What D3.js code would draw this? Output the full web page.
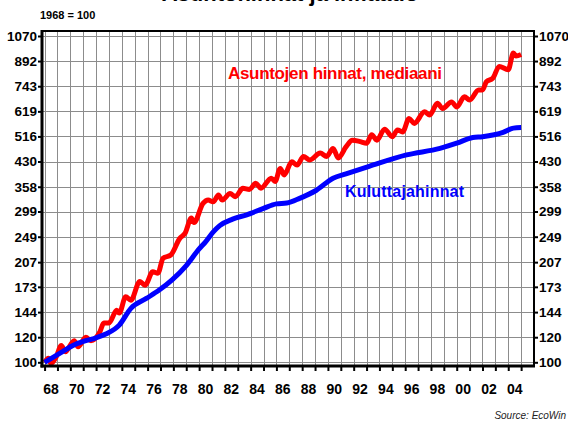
<!DOCTYPE html>
<html>
<head>
<meta charset="utf-8">
<script src="https://cdn.jsdelivr.net/npm/d3@7"></script>
<style>
    body { margin: 0; background: #fff; }
    svg { display: block; font-family: Arial, "Liberation Sans", sans-serif; }
</style>
</head>
<body>
<svg id="chart" width="568" height="426"></svg>
<script>
(function() {
    'use strict';

    // asuntojen hinnat, mediaani (1968 = 100)
    var houseYears = [1968.0, 1968.3, 1968.5, 1968.9, 1969.3, 1969.6, 1970.3, 1970.6, 1971.2, 1971.6,
        1972.3, 1972.6, 1973.0, 1973.6, 1973.8, 1974.3, 1974.7, 1975.4, 1975.8, 1976.4,
        1976.8, 1977.2, 1977.8, 1978.5, 1978.9, 1979.4, 1979.6, 1980.3, 1980.7, 1981.1,
        1981.5, 1981.8, 1982.4, 1982.8, 1983.4, 1983.9, 1984.4, 1984.8, 1985.6, 1985.9,
        1986.3, 1986.6, 1987.2, 1987.6, 1988.1, 1988.6, 1989.4, 1989.9, 1990.4, 1990.8,
        1991.4, 1991.9, 1992.5, 1993.0, 1993.4, 1993.8, 1994.4, 1995.0, 1995.4, 1995.8,
        1996.3, 1996.7, 1997.5, 1997.9, 1998.5, 1998.9, 1999.6, 2000.0, 2000.6, 2001.0,
        2001.7, 2002.0, 2002.3, 2002.8, 2003.3, 2004.0, 2004.4, 2004.6, 2005.0];
    var houseIndex = [100, 103, 99, 104, 113, 108, 117, 112, 120, 117,
        125, 133, 133, 146, 143, 161, 157, 180, 175, 193,
        191, 213, 218, 246, 255, 285, 276, 317, 325, 321,
        337, 325, 341, 333, 354, 351, 367, 354, 381, 372,
        409, 390, 429, 419, 446, 435, 457, 446, 473, 441,
        478, 502, 497, 491, 522, 502, 544, 515, 541, 533,
        588, 567, 617, 603, 656, 632, 663, 639, 688, 672,
        723, 723, 768, 787, 858, 838, 946, 925, 935];

    // kuluttajahinnat (1968 = 100)
    var cpiYears = [1968.0, 1969.4, 1970.2, 1971.2, 1972.0, 1972.8, 1973.8, 1974.7, 1975.9, 1976.9,
        1977.9, 1979.0, 1980.0, 1980.5, 1981.1, 1981.6, 1982.6, 1983.7, 1985.0, 1986.0,
        1986.8, 1987.8, 1989.1, 1990.4, 1991.4, 1993.2, 1996.1, 1998.7, 2000.0, 2001.25,
        2002.0, 2003.6, 2004.4, 2005.0];
    var cpiIndex = [100, 108, 113, 117, 119.5, 123, 131, 148, 159, 169,
        182, 202, 228, 240, 258, 270, 283, 292, 306, 316,
        318, 329, 349, 381, 393, 415, 451, 473, 491, 512,
        515, 531, 548, 550];

    var yTickValues = [100, 120, 144, 173, 207, 249, 299, 358, 430, 516, 619, 743, 892, 1070];
    var gridYears = d3.range(1968, 2006);
    var labelYears = d3.range(1968, 2005, 2);

    var left = 42, right = 534, top = 31, bottom = 366;

    var svg = d3.select('#chart');

    var x = d3.scaleLinear().domain([1967.8, 2006.0]).range([left, right]);
    var y = d3.scaleLog().domain([97.35, 1109.6]).range([bottom, top]);

    // title, cut by the top edge as in the original
    svg.append('text')
        .attr('x', 290)
        .attr('y', 1)
        .attr('text-anchor', 'middle')
        .style('font-size', '22px')
        .style('font-weight', 'bold')
        .text('Asuntohinnat ja inflaatio');

    svg.append('text')
        .attr('x', 40)
        .attr('y', 19)
        .style('font-size', '11px')
        .style('font-weight', 'bold')
        .text('1968 = 100');

    // grid
    var grid = svg.append('g').style('shape-rendering', 'crispEdges');
    grid.selectAll('line.h')
        .data(yTickValues)
        .enter()
        .append('line')
        .attr('class', 'h')
        .attr('x1', left).attr('x2', right)
        .attr('y1', function(d) { return Math.round(y(d)) + 0.5; })
        .attr('y2', function(d) { return Math.round(y(d)) + 0.5; })
        .style('stroke', '#8c8c8c');
    grid.selectAll('line.v')
        .data(gridYears)
        .enter()
        .append('line')
        .attr('class', 'v')
        .attr('y1', top).attr('y2', bottom)
        .attr('x1', function(d) { return Math.round(x(d)) + 0.5; })
        .attr('x2', function(d) { return Math.round(x(d)) + 0.5; })
        .style('stroke', '#8c8c8c');

    // axes
    var yLeft = svg.append('g')
        .attr('transform', 'translate(' + left + ',0)')
        .call(d3.axisLeft(y).tickValues(yTickValues).tickFormat(d3.format('d')).tickSize(4).tickPadding(1));
    var yRight = svg.append('g')
        .attr('transform', 'translate(' + right + ',0)')
        .call(d3.axisRight(y).tickValues(yTickValues).tickFormat(d3.format('d')).tickSize(4).tickPadding(1));
    var xAxis = svg.append('g')
        .attr('transform', 'translate(0,' + bottom + ')')
        .call(d3.axisBottom(x).tickValues(gridYears).tickFormat('').tickSize(5));

    [yLeft, yRight, xAxis].forEach(function(g) {
        g.select('.domain').remove();
        g.selectAll('.tick line').style('stroke', '#000').style('stroke-width', 2);
        g.selectAll('.tick text')
            .style('font-family', 'Arial, "Liberation Sans", sans-serif')
            .style('font-size', '13.5px')
            .style('font-weight', 'bold')
            .style('fill', '#000');
    });

    svg.append('g').selectAll('text')
        .data(labelYears)
        .enter()
        .append('text')
        .attr('x', function(d) { return x(d + 0.5); })
        .attr('y', 393.5)
        .attr('text-anchor', 'middle')
        .style('font-size', '14px')
        .style('font-weight', 'bold')
        .text(function(d) { return d3.format('02d')(d % 100); });

    // series
    var house = houseYears.map(function(d, i) { return [d, houseIndex[i]]; });
    var cpi = cpiYears.map(function(d, i) { return [d, cpiIndex[i]]; });

    var line = d3.line()
        .x(function(d) { return x(d[0]); })
        .y(function(d) { return y(d[1]); })
        .curve(d3.curveMonotoneX);

    svg.append('path')
        .datum(house)
        .attr('d', line)
        .style('fill', 'none')
        .style('stroke', '#ff0000')
        .style('stroke-width', 5)
        .style('stroke-linejoin', 'round');

    svg.append('path')
        .datum(cpi)
        .attr('d', line)
        .style('fill', 'none')
        .style('stroke', '#0000ff')
        .style('stroke-width', 5)
        .style('stroke-linejoin', 'round');

    // frame
    svg.append('rect')
        .attr('x', left).attr('y', top)
        .attr('width', right - left).attr('height', bottom - top)
        .style('fill', 'none')
        .style('stroke', '#000')
        .style('stroke-width', 2);
    svg.append('line')
        .attr('x1', left).attr('x2', left).attr('y1', top - 1).attr('y2', bottom + 1.5)
        .style('stroke', '#000').style('stroke-width', 3);
    svg.append('line')
        .attr('x1', left - 1.5).attr('x2', right + 1).attr('y1', bottom).attr('y2', bottom)
        .style('stroke', '#000').style('stroke-width', 3);

    // series labels
    svg.append('text')
        .attr('x', 228)
        .attr('y', 79)
        .attr('textLength', 214)
        .style('font-size', '17px')
        .style('font-weight', 'bold')
        .style('fill', '#ff0000')
        .text('Asuntojen hinnat, mediaani');

    svg.append('text')
        .attr('x', 345)
        .attr('y', 197)
        .attr('textLength', 119)
        .style('font-size', '16px')
        .style('font-weight', 'bold')
        .style('fill', '#0000ff')
        .text('Kuluttajahinnat');

    svg.append('text')
        .attr('x', 566)
        .attr('y', 419)
        .attr('text-anchor', 'end')
        .style('font-size', '10px')
        .style('font-style', 'italic')
        .style('fill', '#222')
        .text('Source: EcoWin');
})();
</script>
</body>
</html>
